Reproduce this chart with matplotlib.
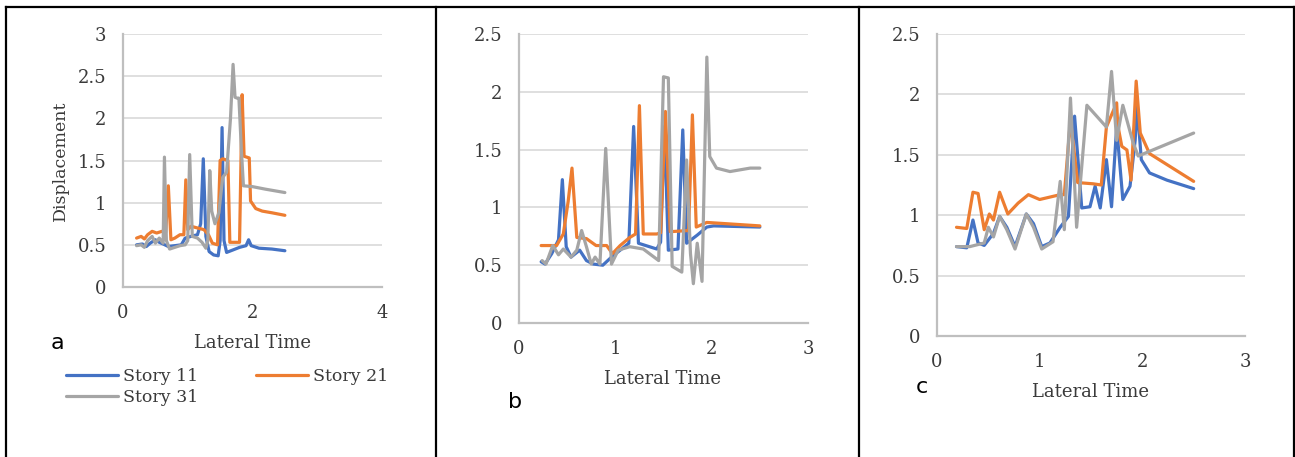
import matplotlib
matplotlib.use("Agg")
import matplotlib.pyplot as plt
from matplotlib.lines import Line2D

plt.rcParams["font.family"] = "DejaVu Serif"

COLORS = {"Story 11": "#4472C4", "Story 21": "#ED7D31", "Story 31": "#A5A5A5"}
SERIES = ["Story 11", "Story 21", "Story 31"]

# ---- panel a ----
a_x_s11 = [0.21, 0.30, 0.36, 0.42, 0.50, 0.56, 0.62, 0.70, 0.80, 0.90, 0.96, 1.05, 1.15, 1.20, 1.24, 1.28,
           1.33, 1.40, 1.47, 1.50, 1.53, 1.56, 1.60, 1.70, 1.80, 1.90, 1.94, 1.98, 2.10, 2.30, 2.50]
a_y_s11 = [0.50, 0.51, 0.48, 0.52, 0.56, 0.53, 0.51, 0.48, 0.49, 0.50, 0.58, 0.60, 0.62, 0.75, 1.52, 0.60,
           0.42, 0.38, 0.37, 0.55, 1.89, 0.55, 0.41, 0.44, 0.47, 0.49, 0.56, 0.49, 0.46, 0.45, 0.43]
a_x_s21 = [0.21, 0.28, 0.33, 0.38, 0.45, 0.52, 0.60, 0.66, 0.70, 0.74, 0.80, 0.88, 0.94, 0.97, 1.00, 1.05,
           1.15, 1.25, 1.32, 1.38, 1.46, 1.50, 1.54, 1.62, 1.65, 1.72, 1.80, 1.84, 1.87, 1.95, 1.97, 2.05,
           2.15, 2.30, 2.50]
a_y_s21 = [0.58, 0.60, 0.57, 0.62, 0.66, 0.64, 0.66, 0.65, 1.20, 0.56, 0.58, 0.62, 0.62, 1.27, 0.68, 0.72,
           0.70, 0.68, 0.62, 0.52, 0.50, 1.50, 1.52, 1.50, 0.53, 0.53, 0.53, 2.28, 1.55, 1.53, 1.02, 0.93,
           0.90, 0.88, 0.85]
a_x_s31 = [0.21, 0.28, 0.33, 0.38, 0.45, 0.50, 0.56, 0.62, 0.64, 0.67, 0.72, 0.80, 0.88, 0.96, 1.00, 1.03,
           1.07, 1.15, 1.22, 1.28, 1.31, 1.34, 1.37, 1.42, 1.48, 1.54, 1.60, 1.66, 1.70, 1.73, 1.76, 1.79,
           1.83, 1.86, 2.00, 2.20, 2.50]
a_y_s31 = [0.49, 0.50, 0.47, 0.55, 0.60, 0.52, 0.58, 0.52, 1.54, 0.55, 0.45, 0.47, 0.49, 0.50, 0.55, 1.57,
           0.60, 0.58, 0.53, 0.46, 0.55, 1.38, 0.90, 0.75, 0.88, 1.30, 1.36, 2.00, 2.64, 2.25, 2.24, 2.24,
           1.60, 1.20, 1.19, 1.16, 1.12]

# ---- panel b ----
b_x_s11 = [0.23, 0.27, 0.34, 0.41, 0.45, 0.49, 0.54, 0.63, 0.70, 0.77, 0.87, 0.96, 1.05, 1.14, 1.19, 1.24,
           1.43, 1.47, 1.51, 1.55, 1.65, 1.70, 1.74, 1.85, 1.95, 2.02, 2.50]
b_y_s11 = [0.53, 0.51, 0.60, 0.72, 1.24, 0.66, 0.57, 0.63, 0.54, 0.51, 0.50, 0.57, 0.63, 0.69, 1.70, 0.69,
           0.64, 0.70, 1.70, 0.63, 0.64, 1.67, 0.69, 0.76, 0.83, 0.84, 0.83]
b_x_s21 = [0.23, 0.39, 0.46, 0.51, 0.55, 0.60, 0.70, 0.80, 0.91, 0.97, 1.05, 1.15, 1.21, 1.25, 1.29, 1.43,
           1.47, 1.52, 1.57, 1.76, 1.80, 1.84, 1.95, 2.50]
b_y_s21 = [0.67, 0.67, 0.77, 1.05, 1.34, 0.74, 0.73, 0.67, 0.67, 0.60, 0.67, 0.74, 0.77, 1.88, 0.77, 0.77,
           0.78, 1.83, 0.79, 0.80, 1.80, 0.83, 0.87, 0.84]
b_x_s31 = [0.24, 0.28, 0.35, 0.41, 0.46, 0.54, 0.60, 0.65, 0.70, 0.75, 0.79, 0.84, 0.90, 0.96, 1.03, 1.15,
           1.29, 1.45, 1.50, 1.55, 1.59, 1.69, 1.74, 1.78, 1.81, 1.85, 1.90, 1.95, 1.98, 2.05, 2.19, 2.40, 2.50]
b_y_s31 = [0.54, 0.51, 0.67, 0.59, 0.64, 0.57, 0.63, 0.80, 0.66, 0.51, 0.57, 0.51, 1.51, 0.51, 0.63, 0.66,
           0.64, 0.54, 2.13, 2.12, 0.49, 0.44, 1.41, 0.60, 0.34, 0.69, 0.36, 2.30, 1.44, 1.34, 1.31, 1.34, 1.34]

# ---- panel c ----
c_x_s11 = [0.19, 0.29, 0.35, 0.40, 0.46, 0.55, 0.61, 0.68, 0.76, 0.87, 0.94, 1.02, 1.10, 1.20, 1.28, 1.34,
           1.41, 1.49, 1.54, 1.59, 1.65, 1.70, 1.75, 1.81, 1.88, 1.93, 1.95, 1.99, 2.07, 2.24, 2.50]
c_y_s11 = [0.74, 0.73, 0.96, 0.77, 0.75, 0.85, 0.99, 0.90, 0.74, 1.01, 0.93, 0.74, 0.77, 0.90, 0.99, 1.82,
           1.06, 1.07, 1.24, 1.06, 1.46, 1.07, 1.73, 1.13, 1.24, 1.62, 1.90, 1.46, 1.35, 1.29, 1.22]
c_x_s21 = [0.19, 0.29, 0.35, 0.40, 0.46, 0.51, 0.55, 0.61, 0.69, 0.79, 0.89, 1.00, 1.20, 1.24, 1.30, 1.37,
           1.52, 1.60, 1.65, 1.75, 1.76, 1.80, 1.85, 1.89, 1.94, 1.98, 2.07, 2.50]
c_y_s21 = [0.90, 0.89, 1.19, 1.18, 0.88, 1.01, 0.96, 1.19, 1.01, 1.10, 1.17, 1.13, 1.17, 1.17, 1.79, 1.27,
           1.26, 1.25, 1.73, 1.93, 1.75, 1.57, 1.54, 1.29, 2.11, 1.68, 1.51, 1.28]
c_x_s31 = [0.19, 0.32, 0.46, 0.50, 0.55, 0.61, 0.68, 0.76, 0.87, 0.94, 1.02, 1.13, 1.20, 1.24, 1.30, 1.36,
           1.46, 1.65, 1.70, 1.75, 1.81, 1.91, 1.96, 2.50]
c_y_s31 = [0.74, 0.74, 0.77, 0.90, 0.82, 0.99, 0.88, 0.72, 1.01, 0.90, 0.72, 0.78, 1.28, 0.88, 1.97, 0.90,
           1.91, 1.73, 2.19, 1.62, 1.91, 1.60, 1.49, 1.68]

a_xticks = [0, 2, 4]
a_yticks = [0, 0.5, 1, 1.5, 2, 2.5, 3]
bc_xticks = [0, 1, 2, 3]
bc_yticks = [0, 0.5, 1, 1.5, 2, 2.5]

W, H = 1295, 457
TEXT = "#3A3A3A"


def px(x0, y0, x1, y1):
    """pixel box (left, top, right, bottom) -> figure rect"""
    return [x0 / W, 1 - y1 / H, (x1 - x0) / W, (y1 - y0) / H]


def style(ax, xticks, yticks):
    ax.set_xlim(xticks[0], xticks[-1])
    ax.set_ylim(yticks[0], yticks[-1])
    ax.set_xticks(xticks)
    ax.set_yticks(yticks)
    ax.set_xticklabels([f"{t:g}" for t in xticks])
    ax.set_yticklabels([f"{t:g}" for t in yticks])
    for s in ["top", "right"]:
        ax.spines[s].set_visible(False)
    for s in ["left", "bottom"]:
        ax.spines[s].set_color("#BFBFBF")
        ax.spines[s].set_linewidth(1.6)
    ax.grid(True, axis="y", color="#D9D9D9", linewidth=1.2)
    ax.set_axisbelow(True)
    ax.tick_params(length=0, labelsize=13, colors=TEXT, pad=12)


fig = plt.figure(figsize=(W / 100, H / 100), dpi=100)

panels = [
    (px(123, 34, 382, 287), a_xticks, a_yticks,
     [(a_x_s11, a_y_s11), (a_x_s21, a_y_s21), (a_x_s31, a_y_s31)]),
    (px(519, 34, 808, 323), bc_xticks, bc_yticks,
     [(b_x_s11, b_y_s11), (b_x_s21, b_y_s21), (b_x_s31, b_y_s31)]),
    (px(937, 34, 1245, 336), bc_xticks, bc_yticks,
     [(c_x_s11, c_y_s11), (c_x_s21, c_y_s21), (c_x_s31, c_y_s31)]),
]

axes = []
for rect, xt, yt, data in panels:
    ax = fig.add_axes(rect)
    style(ax, xt, yt)
    for name, (xs, ys) in zip(SERIES, data):
        ax.plot(xs, ys, color=COLORS[name], linewidth=2.3, label=name,
                solid_joinstyle="round", solid_capstyle="round")
    axes.append(ax)

axes[0].set_ylabel("Displacement", fontsize=12.5, color=TEXT, labelpad=6)

# axis titles and panel letters (figure pixel positions)
for cx, cy in [(252, 343), (663, 379), (1090, 392)]:
    fig.text(cx / W, 1 - cy / H, "Lateral Time", ha="center", va="center",
             fontsize=13, color=TEXT)
for lab, cx, cy in [("a", 57, 343), ("b", 515, 402), ("c", 922, 387)]:
    fig.text(cx / W, 1 - cy / H, lab, ha="center", va="center",
             fontsize=16, family="DejaVu Sans", color="black")

# legend under panel a, Excel order: row1 = 11, 21 ; row2 = 31
h = {l.get_label(): l for l in axes[0].get_lines()}
fig.legend([h["Story 11"], h["Story 31"], h["Story 21"]],
           ["Story 11", "Story 31", "Story 21"],
           ncol=2, loc="upper left", bbox_to_anchor=(66 / W, 1 - 368 / H),
           frameon=False, fontsize=12.5, handlelength=3.0, handletextpad=0.3,
           columnspacing=3.3, labelspacing=0.22, borderpad=0, borderaxespad=0,
           labelcolor=TEXT)

# panel frame lines
frame = dict(color="black", linewidth=1.6, transform=fig.transFigure)
fig.add_artist(Line2D([6 / W, 1294 / W], [1 - 7 / H, 1 - 7 / H], **frame))
for xp in [6, 436, 859, 1294]:
    fig.add_artist(Line2D([xp / W, xp / W], [0, 1 - 7 / H], **frame))

plt.savefig("out.png", dpi=100)
